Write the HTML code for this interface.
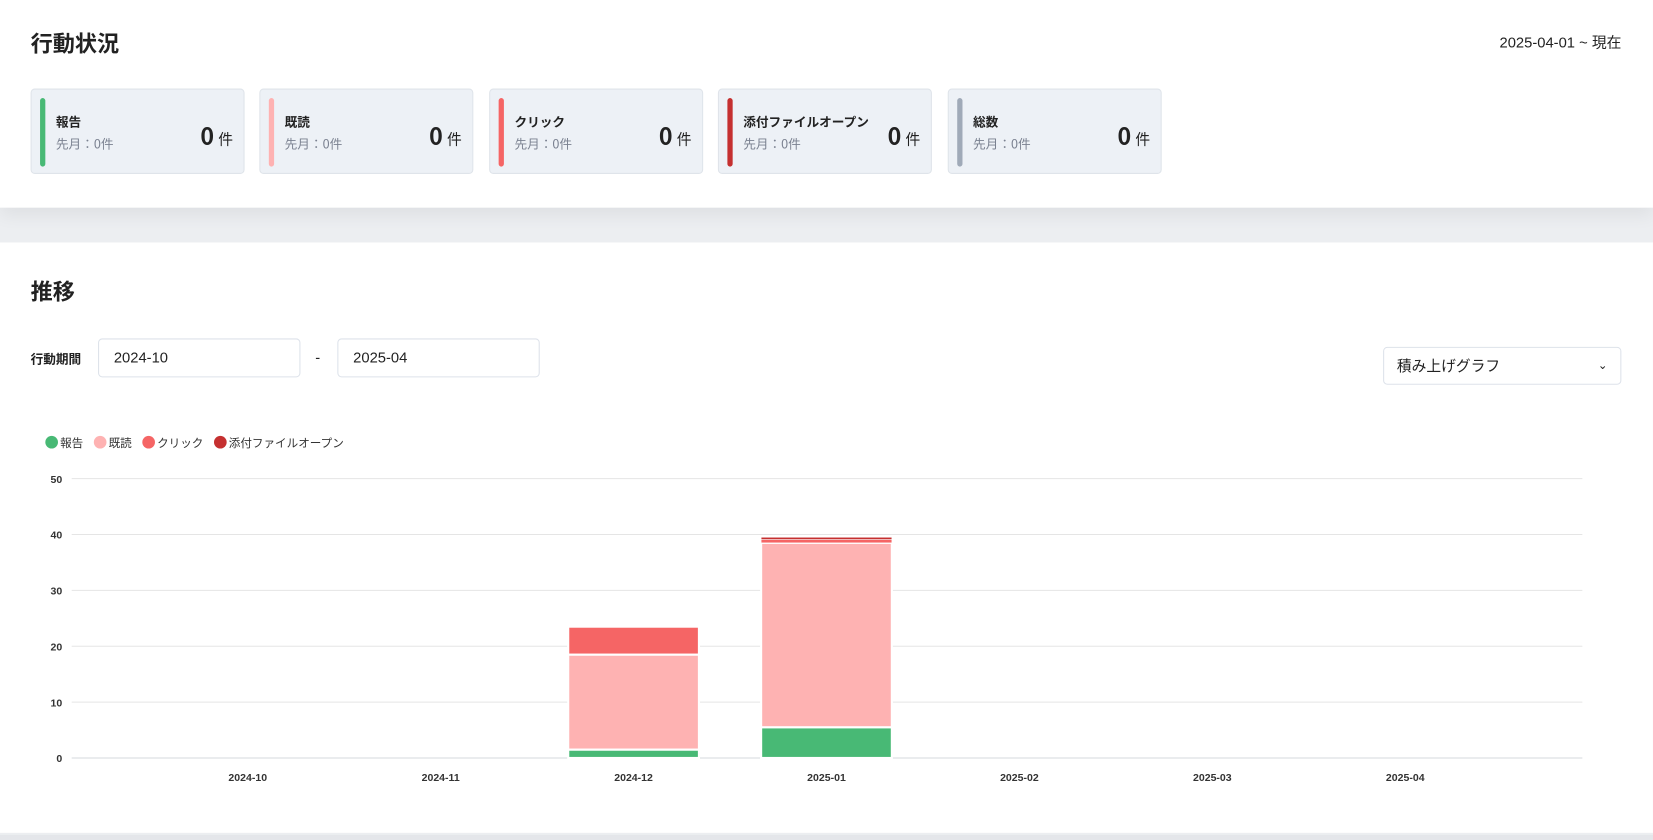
<!DOCTYPE html>
<html><head><meta charset="utf-8"><style>
*{box-sizing:border-box;margin:0;padding:0}
html,body{width:1653px;height:840px;overflow:hidden}
body{background:#f4f5f7;font-family:"Liberation Sans","Noto Sans CJK JP",sans-serif;color:#222}
#wrap{position:absolute;left:0;top:0;width:1568px;height:797px;transform:scale(1.0542);transform-origin:0 0;background:#eceef1;overflow:hidden}
.card{position:absolute;left:0;width:1568px;background:#fff}
.top{top:0;height:197px;box-shadow:0 8px 16px rgba(0,0,0,.06)}
.mid{top:230px;height:560px}
h2{position:absolute;left:29px;font-size:21px;font-weight:bold;font-family:"Noto Sans CJK JP",sans-serif}
.stat{position:absolute;top:84px;width:203px;height:81px;background:#edf1f6;border:1px solid #dfe4ea;border-radius:4px}
.stat .bar{position:absolute;left:8px;top:8px;width:5px;height:65px;border-radius:3px}
.stat .t{position:absolute;left:23px;top:22px;font-size:12px;font-weight:bold;font-family:"Noto Sans CJK JP",sans-serif}
.stat .s{position:absolute;left:23px;top:43px;font-size:12px;color:#7a8190;font-family:"Noto Sans CJK JP",sans-serif}
.stat .v{position:absolute;right:10px;top:27px;font-size:14px;font-family:"Noto Sans CJK JP",sans-serif}
.stat .v b{font-size:22px;margin-right:4px}
.inp{position:absolute;top:321px;height:37px;width:192px;border:1px solid #dde2ea;border-radius:4px;font-size:14px;padding:9px 14px;background:#fff}
</style></head><body>
<div id="wrap">
<div class="card top">
<h2 style="top:26px">行動状況</h2>
<div style="position:absolute;right:30px;top:30px;font-size:14px;font-family:'Liberation Sans','Noto Sans CJK JP',sans-serif">2025-04-01 ~ 現在</div>
<div class="stat" style="left:29px"><div class="bar" style="background:#48b975"></div><div class="t">報告</div><div class="s">先月：0件</div><div class="v"><b>0</b>件</div></div>
<div class="stat" style="left:246px"><div class="bar" style="background:#feb2b2"></div><div class="t">既読</div><div class="s">先月：0件</div><div class="v"><b>0</b>件</div></div>
<div class="stat" style="left:464px"><div class="bar" style="background:#f56565"></div><div class="t">クリック</div><div class="s">先月：0件</div><div class="v"><b>0</b>件</div></div>
<div class="stat" style="left:681px"><div class="bar" style="background:#c53030"></div><div class="t">添付ファイルオープン</div><div class="s">先月：0件</div><div class="v"><b>0</b>件</div></div>
<div class="stat" style="left:899px"><div class="bar" style="background:#a0aab8"></div><div class="t">総数</div><div class="s">先月：0件</div><div class="v"><b>0</b>件</div></div>
</div>
<div class="card mid"></div>
<h2 style="top:261px">推移</h2>
<div style="position:absolute;left:29px;top:332px;font-size:12px;font-weight:bold;font-family:'Noto Sans CJK JP',sans-serif">行動期間</div>
<div class="inp" style="left:93px">2024-10</div>
<div style="position:absolute;left:299px;top:331px;font-size:14px">-</div>
<div class="inp" style="left:320px">2025-04</div>
<div style="position:absolute;left:1312px;top:329px;width:226px;height:36px;border:1px solid #dde2ea;border-radius:4px;background:#fff;font-size:14px;padding:9px 12px;font-family:'Noto Sans CJK JP',sans-serif;line-height:16px">積み上げグラフ<span style="position:absolute;right:12px;top:8px;font-size:11px">&#8964;</span></div>
<svg id="chart" width="1568" height="797" style="position:absolute;left:0;top:0"></svg>
<div style="position:absolute;left:0;top:792px;width:1568px;height:5px;background:#e4e6ea"></div>
</div>
<script>
const categories=["2024-10","2024-11","2024-12","2025-01","2025-02","2025-03","2025-04"];
const seriesNames=["報告","既読","クリック","添付ファイルオープン"];
const report=[0,0,1.5,5.5,0,0,0];
const read=[0,0,17,33,0,0,0];
const click=[0,0,5,0.6,0,0,0];
const attach=[0,0,0,0.4,0,0,0];
const yTicks=[0,10,20,30,40,50];
const colors=["#48b975","#feb2b2","#f56565","#c53030"];
const NS="http://www.w3.org/2000/svg";
const svg=document.getElementById('chart');
const y0=719,yTop=454,yMax=50,xl=68,xr=1501,band=183,x0=143.5;
const y=v=>y0-(v/yMax)*(y0-yTop);
const xc=i=>x0+band*i+band/2;
function mk(t,a){const e=document.createElementNS(NS,t);for(const k in a)e.setAttribute(k,a[k]);svg.appendChild(e);return e;}
yTicks.forEach(v=>{
 const l=mk('line',{x1:xl,x2:xr,y1:y(v),y2:y(v),stroke:v===0?'#d5d8dc':'#e5e5e5','stroke-width':1});
 
 
 const t=mk('text',{x:59,y:y(v)+4,'text-anchor':'end','font-size':10,'font-weight':'bold',fill:'#333','font-family':'Liberation Sans'});
 t.textContent=v;
 
 
});
categories.forEach((c,i)=>{
 const t=mk('text',{x:xc(i),y:741,'text-anchor':'middle','font-size':10,'font-weight':'bold',fill:'#333','font-family':'Liberation Sans'});
 t.textContent=c;
 
 
});
const series=[report,read,click,attach];
categories.forEach((c,i)=>{
 let acc=0;
 series.forEach((s,k)=>{
  const v=s[i]; if(v<=0)return;
  const h=y(acc)-y(acc+v);
  const r=mk('rect',{x:xc(i)-62,width:124,y:y(acc+v),height:h,fill:colors[k],stroke:'#fff','stroke-width':h<4?0.5:2});
  
  
  acc+=v;
 });
});
let lx=43;
seriesNames.forEach((n,k)=>{
 const ci=mk('circle',{cx:lx+6,cy:419.5,r:6,fill:colors[k]});
 
 
 const t=mk('text',{x:lx+14,y:424,'font-size':11,fill:'#333','font-family':'Noto Sans CJK JP, sans-serif'});
 t.textContent=n;
 
 
 lx+=14+n.length*11+10;
});
</script>
</body></html>
